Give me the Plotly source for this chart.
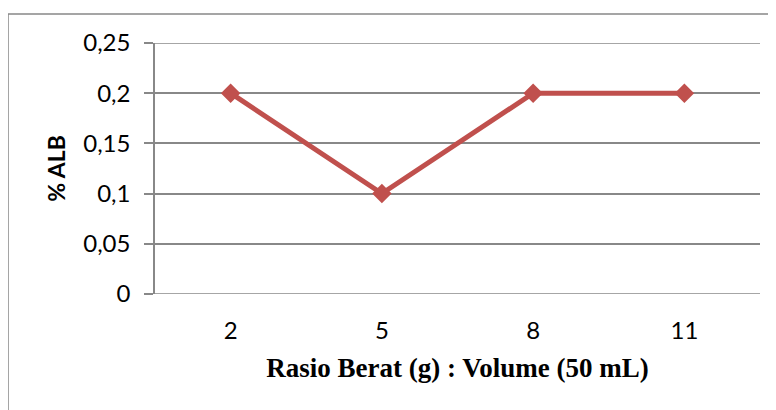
import plotly.graph_objects as go

categories = ["2", "5", "8", "11"]
alb_values = [0.2, 0.1, 0.2, 0.2]
y_ticks = [0, 0.05, 0.1, 0.15, 0.2, 0.25]
y_tick_labels = ["0", "0,05", "0,1", "0,15", "0,2", "0,25"]

# page body adds an 8px offset; figure is sized so the plot lands at the reference position
OFF = 8
W, H = 776 - OFF, 410 - OFF
L, R, T, B = 155 - OFF, 16, 43 - OFF, 116
pw = W - L - R
ph = H - T - B
GRID = "#888888"

fig = go.Figure()
fig.add_trace(go.Scatter(
    x=list(range(len(categories))), y=alb_values,
    mode="lines+markers",
    line=dict(color="#C0504D", width=5),
    marker=dict(symbol="diamond", size=15, color="#C0504D"),
    showlegend=False, cliponaxis=False,
))

tick_font = dict(family="Lato, Carlito, sans-serif", size=24, color="#000000")
fig.update_layout(
    width=W, height=H,
    margin=dict(l=L, r=R, t=T, b=B),
    paper_bgcolor="white", plot_bgcolor="white",
    xaxis=dict(
        range=[-0.5, len(categories) - 0.5],
        tickvals=list(range(len(categories))), ticktext=categories,
        showgrid=False, zeroline=False, showline=False, ticks="",
        tickfont=tick_font, ticklabelstandoff=20, automargin=False,
        title=dict(text="<b>Rasio Berat (g) : Volume (50 mL)</b>",
                   font=dict(family="Liberation Serif, Times New Roman, serif", size=27, color="#000"),
                   standoff=15),
    ),
    yaxis=dict(
        range=[0, 0.25],
        tickvals=y_ticks, ticktext=y_tick_labels,
        showgrid=True, gridcolor=GRID, gridwidth=1.5,
        zeroline=False, showline=True, linecolor=GRID, linewidth=1.5,
        ticks="outside", ticklen=9, tickcolor=GRID, tickwidth=1.5,
        tickfont=tick_font, ticklabelstandoff=9, automargin=False,
        title=dict(text="<b>% ALB</b>",
                   font=dict(family="Lato, Carlito, sans-serif", size=23, color="#000"),
                   standoff=11),
    ),
)
for yv in (y_ticks[0], y_ticks[-1]):
    fig.add_shape(type="line", xref="paper", yref="y", x0=-9 / pw, x1=1, y0=yv, y1=yv,
                  line=dict(color=GRID, width=1.5), layer="below")
# outer chart border (top-left corner at page pixel (8, 14))
fig.add_shape(type="rect", xref="paper", yref="paper",
              x0=(8 - OFF - L) / pw, x1=(W + 10 - L) / pw,
              y0=-(H + 10 - T - ph) / ph, y1=(T + ph - (14 - OFF)) / ph,
              line=dict(color=GRID, width=1.5), fillcolor="rgba(0,0,0,0)", layer="below")

fig.write_html("out.html")
